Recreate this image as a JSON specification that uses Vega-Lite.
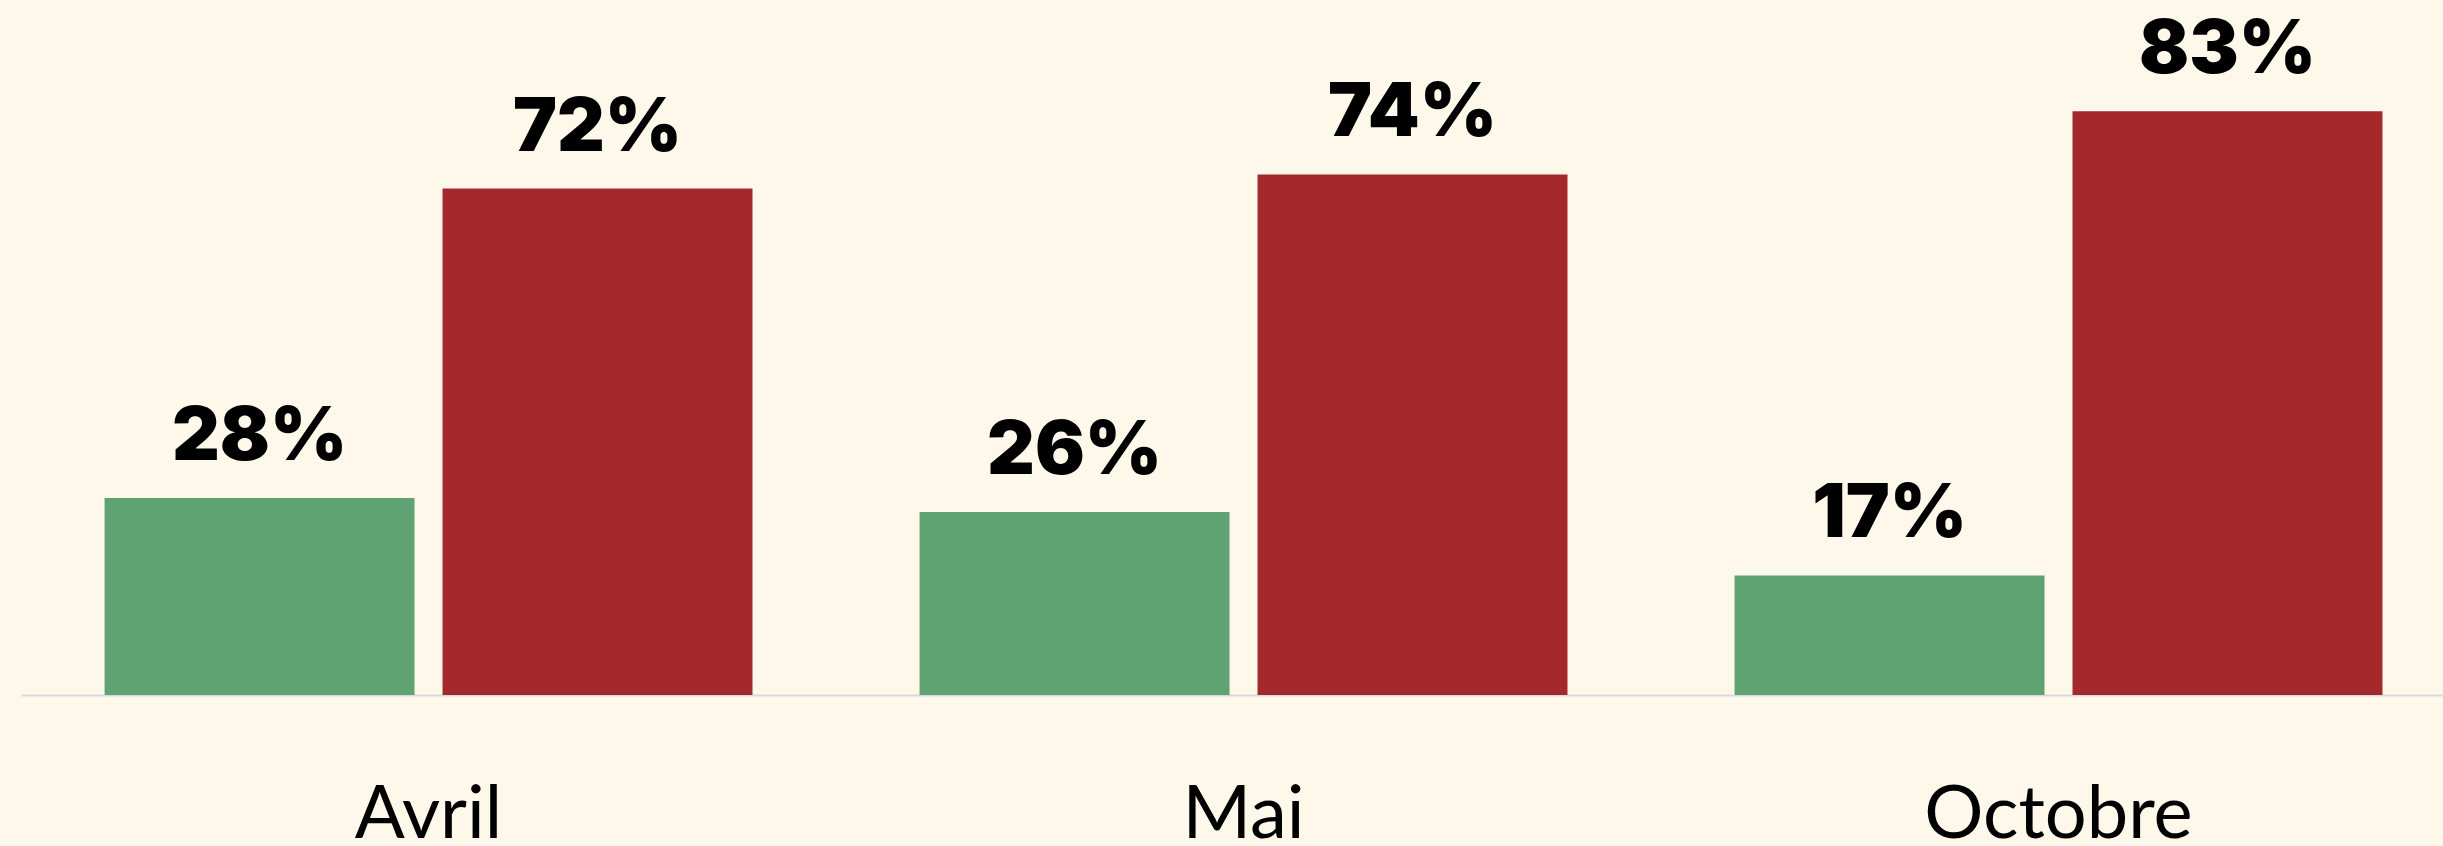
{
  "$schema": "https://vega.github.io/schema/vega-lite/v6.json",
  "width": 2422,
  "height": 695,
  "autosize": {"type": "none"},
  "padding": {"left": 21, "top": 0, "right": 0, "bottom": 151},
  "background": "#FEF8EA",
  "config": {"view": {"stroke": null}},
  "data": {
    "values": [
      {"mois": "Avril", "reponse": "Oui", "pct": 0.28},
      {"mois": "Avril", "reponse": "Non", "pct": 0.72},
      {"mois": "Mai", "reponse": "Oui", "pct": 0.26},
      {"mois": "Mai", "reponse": "Non", "pct": 0.74},
      {"mois": "Octobre", "reponse": "Oui", "pct": 0.17},
      {"mois": "Octobre", "reponse": "Non", "pct": 0.83}
    ]
  },
  "encoding": {
    "x": {
      "field": "mois", "type": "nominal", "sort": ["Avril", "Mai", "Octobre"],
      "scale": {"paddingInner": 0.205, "paddingOuter": 0.0884, "align": 0.58},
      "axis": {
        "title": null, "labelAngle": 0, "ticks": false, "domain": true,
        "domainColor": "#D9D9D9", "domainWidth": 2,
        "labelFont": "Lato", "labelFontSize": 74, "labelColor": "#000000",
        "labelPadding": 142, "labelBaseline": "alphabetic", "labelLimit": 0
      }
    },
    "xOffset": {
      "field": "reponse", "type": "nominal", "sort": ["Oui", "Non"],
      "scale": {"paddingInner": 0.0828, "paddingOuter": 0}
    },
    "y": {
      "field": "pct", "type": "quantitative",
      "scale": {"domain": [0, 0.988], "nice": false, "zero": true},
      "axis": null
    }
  },
  "layer": [
    {
      "mark": {"type": "bar"},
      "encoding": {
        "color": {
          "field": "reponse", "type": "nominal",
          "scale": {"domain": ["Oui", "Non"], "range": ["#5EA371", "#A3292C"]},
          "legend": null
        }
      }
    },
    {
      "mark": {
        "type": "text", "dy": -38, "baseline": "alphabetic", "align": "center",
        "font": "Inter", "fontWeight": 900, "fontSize": 74, "color": "#000000"
      },
      "encoding": {
        "text": {"field": "pct", "type": "quantitative", "format": ".0%"}
      }
    }
  ]
}
